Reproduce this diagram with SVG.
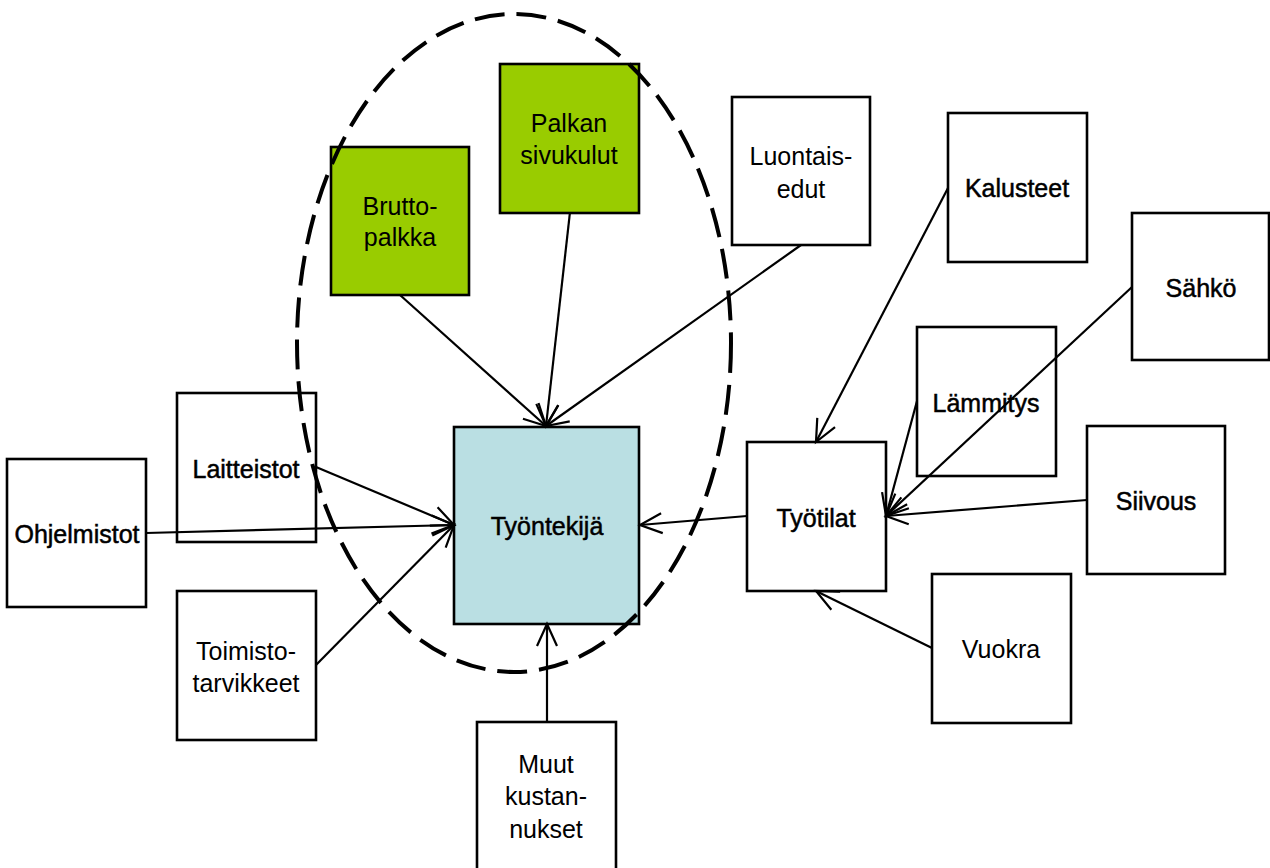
<svg xmlns="http://www.w3.org/2000/svg" width="1270" height="868" viewBox="0 0 1270 868">
<style>
.box{fill:#ffffff;stroke:#000;stroke-width:2.6}
.green{fill:#99CC00;stroke:#000;stroke-width:2.6}
.main{fill:#BADFE3;stroke:#000;stroke-width:2.6}
.t{font-family:"Liberation Sans",Arial,sans-serif;font-size:25px;fill:#000;text-anchor:middle}
.h{stroke:#000;stroke-width:0.5}
.c{stroke:#000;stroke-width:2.2;fill:none;marker-end:url(#arr)}
.ell{fill:none;stroke:#000;stroke-width:4;stroke-dasharray:30 12}
</style>
<defs>
<marker id="arr" markerUnits="userSpaceOnUse" viewBox="-24 -12 26 24" refX="0" refY="0" markerWidth="26" markerHeight="24" orient="auto" overflow="visible">
<path d="M-22,-10 L0,0 L-22,10" fill="none" stroke="#000" stroke-width="2.2"/>
</marker>
</defs>
<rect width="1270" height="868" fill="#fff"/>
<g id="nodes">
<g id="bruttopalkka"><rect class="green" x="331" y="147" width="138" height="148"/><text class="t" x="400" y="215">Brutto-</text><text class="t" x="400" y="246">palkka</text></g>
<g id="palkan-sivukulut"><rect class="green" x="500" y="64" width="139" height="149"/><text class="t" x="569" y="132">Palkan</text><text class="t" x="569" y="164">sivukulut</text></g>
<g id="luontaisedut"><rect class="box" x="732" y="97" width="138" height="148"/><text class="t" x="801" y="165">Luontais-</text><text class="t" x="801" y="198">edut</text></g>
<g id="kalusteet"><rect class="box" x="948" y="113" width="139" height="149"/><text class="t h" x="1017" y="197">Kalusteet</text></g>
<g id="sahko"><rect class="box" x="1132" y="213" width="137" height="147"/><text class="t h" x="1201" y="297">Sähkö</text></g>
<g id="lammitys"><rect class="box" x="917" y="327" width="139" height="149"/><text class="t h" x="986" y="412">Lämmitys</text></g>
<g id="siivous"><rect class="box" x="1087" y="426" width="138" height="148"/><text class="t h" x="1156" y="510">Siivous</text></g>
<g id="tyotilat"><rect class="box" x="747" y="442" width="139" height="149"/><text class="t h" x="816" y="527">Työtilat</text></g>
<g id="vuokra"><rect class="box" x="932" y="574" width="139" height="149"/><text class="t" x="1001" y="658">Vuokra</text></g>
<g id="tyontekija"><rect class="main" x="454" y="427" width="185" height="197"/><text class="t h" x="547" y="535">Työntekijä</text></g>
<g id="ohjelmistot"><rect class="box" x="7" y="459" width="139" height="148"/><text class="t h" x="77" y="543">Ohjelmistot</text></g>
<g id="laitteistot"><rect class="box" x="177" y="393" width="139" height="149"/><text class="t h" x="246" y="478">Laitteistot</text></g>
<g id="toimistotarvikkeet"><rect class="box" x="177" y="591" width="139" height="149"/><text class="t" x="246" y="660">Toimisto-</text><text class="t" x="246" y="692">tarvikkeet</text></g>
<g id="muut-kustannukset"><rect class="box" x="477" y="722" width="139" height="150"/><text class="t" x="546" y="773">Muut</text><text class="t" x="546" y="805">kustan-</text><text class="t" x="546" y="838">nukset</text></g>
</g>
<g id="connectors">
<line class="c" x1="400" y1="295" x2="546" y2="426"/>
<line class="c" x1="570" y1="212" x2="546" y2="426"/>
<line class="c" x1="801" y1="245" x2="546" y2="426"/>
<line class="c" x1="316" y1="467" x2="454" y2="525"/>
<line class="c" x1="146" y1="533" x2="454" y2="525"/>
<line class="c" x1="316" y1="665" x2="454" y2="525"/>
<line class="c" x1="547" y1="722" x2="547" y2="624"/>
<line class="c" x1="747" y1="516" x2="640" y2="525"/>
<line class="c" x1="948" y1="188" x2="816" y2="442"/>
<line class="c" x1="1132" y1="287" x2="886" y2="516"/>
<line class="c" x1="917" y1="401" x2="886" y2="516"/>
<line class="c" x1="1087" y1="500" x2="886" y2="516"/>
<line class="c" x1="932" y1="648" x2="816" y2="591"/>
</g>
<g id="boundary">
<ellipse class="ell" cx="514" cy="343" rx="217" ry="329"/>
</g>
</svg>
